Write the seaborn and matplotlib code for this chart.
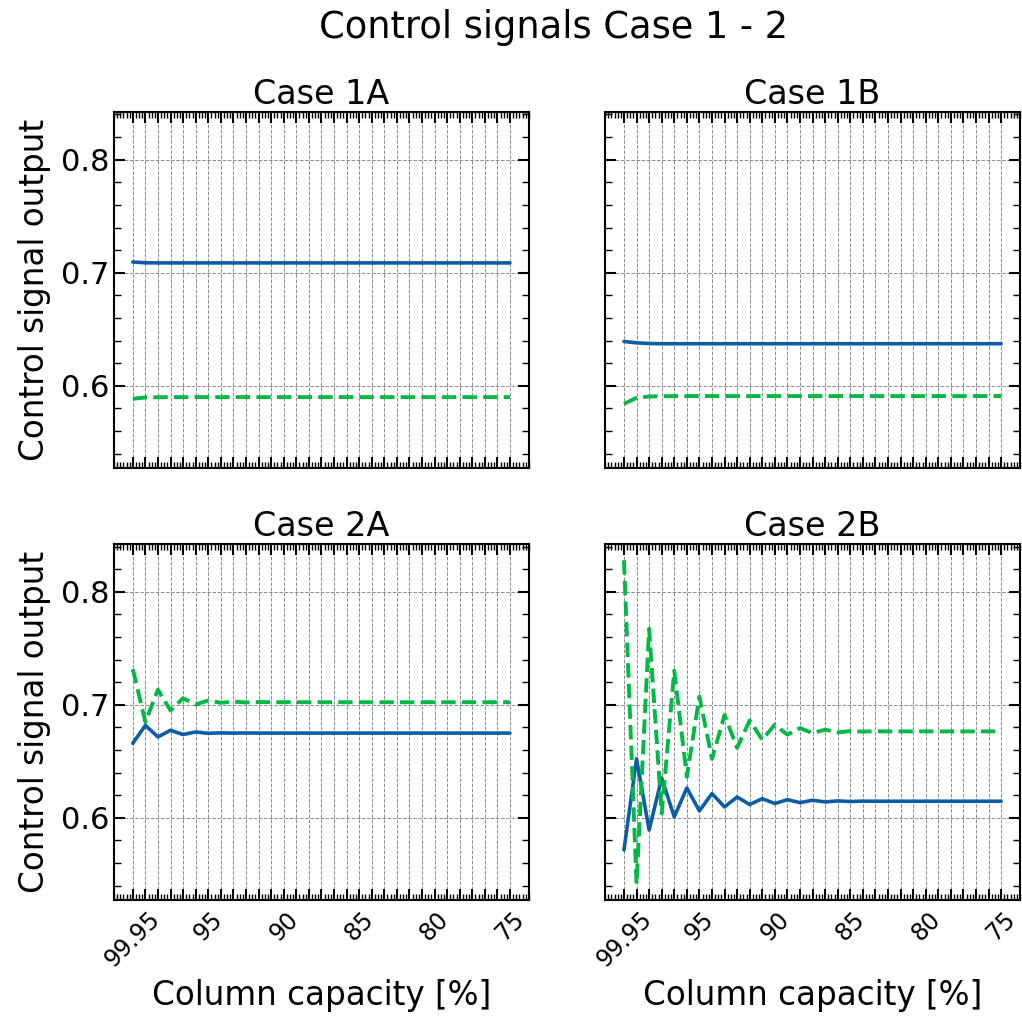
import numpy as np
import pandas as pd
import matplotlib
matplotlib.use('Agg')
import matplotlib.pyplot as plt
import seaborn as sns
from matplotlib.ticker import MultipleLocator, AutoMinorLocator

# x positions (simulation steps) and the capacities written under some of them
step = list(range(31))
label_steps = [0, 6, 12, 18, 24, 30]
label_text = ['99.95', '95', '90', '85', '80', '75']

# Case 1A
case_1a_blue = [0.7095, 0.7088, 0.7087, 0.7087, 0.7087, 0.7087, 0.7087, 0.7087,
                0.7087, 0.7087, 0.7087, 0.7087, 0.7087, 0.7087, 0.7087, 0.7087,
                0.7087, 0.7087, 0.7087, 0.7087, 0.7087, 0.7087, 0.7087, 0.7087,
                0.7087, 0.7087, 0.7087, 0.7087, 0.7087, 0.7087, 0.7087]
case_1a_green = [0.5885, 0.5897, 0.5899, 0.5900, 0.5900, 0.5900, 0.5900, 0.5900,
                 0.5900, 0.5900, 0.5900, 0.5900, 0.5900, 0.5900, 0.5900, 0.5900,
                 0.5900, 0.5900, 0.5900, 0.5900, 0.5900, 0.5900, 0.5900, 0.5900,
                 0.5900, 0.5900, 0.5900, 0.5900, 0.5900, 0.5900, 0.5900]

# Case 1B
case_1b_blue = [0.6392, 0.6380, 0.6374, 0.6372, 0.6372, 0.6372, 0.6372, 0.6372,
                0.6372, 0.6372, 0.6372, 0.6372, 0.6372, 0.6372, 0.6372, 0.6372,
                0.6372, 0.6372, 0.6372, 0.6372, 0.6372, 0.6372, 0.6372, 0.6372,
                0.6372, 0.6372, 0.6372, 0.6372, 0.6372, 0.6372, 0.6372]
case_1b_green = [0.5840, 0.5894, 0.5905, 0.5908, 0.5909, 0.5909, 0.5909, 0.5909,
                 0.5909, 0.5909, 0.5909, 0.5909, 0.5909, 0.5909, 0.5909, 0.5909,
                 0.5909, 0.5909, 0.5909, 0.5909, 0.5909, 0.5909, 0.5909, 0.5909,
                 0.5909, 0.5909, 0.5909, 0.5909, 0.5909, 0.5909, 0.5909]

# Case 2A
case_2a_blue = [0.6660, 0.6818, 0.6716, 0.6775, 0.6737, 0.6760, 0.6748, 0.6752,
                0.6750, 0.6751, 0.6750, 0.6750, 0.6750, 0.6750, 0.6750, 0.6750,
                0.6750, 0.6750, 0.6750, 0.6750, 0.6750, 0.6750, 0.6750, 0.6750,
                0.6750, 0.6750, 0.6750, 0.6750, 0.6750, 0.6750, 0.6750]
case_2a_green = [0.7316, 0.6847, 0.7134, 0.6950, 0.7058, 0.7003, 0.7038, 0.7018,
                 0.7028, 0.7021, 0.7025, 0.7023, 0.7023, 0.7023, 0.7023, 0.7023,
                 0.7023, 0.7023, 0.7023, 0.7023, 0.7023, 0.7023, 0.7023, 0.7023,
                 0.7023, 0.7023, 0.7023, 0.7023, 0.7023, 0.7023, 0.7023]

# Case 2B
case_2b_blue = [0.5716, 0.6522, 0.5892, 0.6352, 0.6009, 0.6264, 0.6062, 0.6215,
                0.6097, 0.6185, 0.6118, 0.6170, 0.6127, 0.6161, 0.6135, 0.6156,
                0.6141, 0.6150, 0.6145, 0.6148, 0.6147, 0.6147, 0.6147, 0.6147,
                0.6147, 0.6147, 0.6147, 0.6147, 0.6147, 0.6147, 0.6147]
case_2b_green = [0.8279, 0.5417, 0.7672, 0.6039, 0.7302, 0.6363, 0.7073, 0.6522,
                 0.6909, 0.6620, 0.6862, 0.6692, 0.6824, 0.6736, 0.6794, 0.6750,
                 0.6780, 0.6756, 0.6768, 0.6763, 0.6766, 0.6765, 0.6765, 0.6765,
                 0.6765, 0.6765, 0.6765, 0.6765, 0.6765, 0.6765, 0.6765]

titles = ['Case 1A', 'Case 1B', 'Case 2A', 'Case 2B']
blue_series = [case_1a_blue, case_1b_blue, case_2a_blue, case_2b_blue]
green_series = [case_1a_green, case_1b_green, case_2a_green, case_2b_green]

sns.set_style('ticks')
plt.rcParams.update({
    'font.family': ['DejaVu Sans'],
    'text.color': 'black',
    'axes.labelcolor': 'black',
    'xtick.color': 'black',
    'ytick.color': 'black',
    'xtick.direction': 'in',
    'ytick.direction': 'in',
    'xtick.top': True,
    'ytick.right': True,
    'xtick.major.size': 8,
    'xtick.minor.size': 4,
    'ytick.major.size': 8,
    'ytick.minor.size': 5,
    'xtick.major.width': 1.5,
    'ytick.major.width': 1.5,
    'xtick.minor.width': 1.0,
    'ytick.minor.width': 1.0,
    'axes.linewidth': 1.5,
    'axes.edgecolor': 'black',
})

blue = '#0C5DA5'
green = '#00B945'

fig, axes = plt.subplots(2, 2, figsize=(10.22, 10.16), dpi=100, sharex=True, sharey=True)
plt.subplots_adjust(left=0.1115, right=0.998, top=0.8898, bottom=0.1142,
                    wspace=0.184, hspace=0.214)

tick_labels = [label_text[label_steps.index(s)] if s in label_steps else '' for s in step]

for ax, title, yb, yg in zip(axes.flat, titles, blue_series, green_series):
    sns.lineplot(x=step, y=yb, ax=ax, color=blue, linewidth=2.6)
    sns.lineplot(x=step, y=yg, ax=ax, color=green, linewidth=2.8, linestyle='--')
    ax.set_title(title, fontsize=24)
    ax.set_xticks(step)
    ax.xaxis.set_minor_locator(AutoMinorLocator(4))
    ax.yaxis.set_major_locator(MultipleLocator(0.1))
    ax.yaxis.set_minor_locator(MultipleLocator(0.02))
    ax.grid(True, which='major', linestyle='--', color='k', alpha=0.45, linewidth=0.7)
    ax.tick_params(axis='both', which='both', top=True, right=True, direction='in')
    ax.tick_params(axis='y', labelsize=22)
    ax.set_xlabel('')
    ax.set_ylabel('')

for ax in axes[1]:
    ax.set_xticklabels(tick_labels)
    ax.tick_params(axis='x', labelsize=17, labelrotation=45, pad=5)
    ax.set_xlabel('Column capacity [%]', fontsize=23.5, labelpad=5)

for ax in axes[:, 0]:
    ax.set_ylabel('Control signal output', fontsize=23.5, labelpad=7)

fig.suptitle('Control signals Case 1 - 2', fontsize=26.5, x=0.542, y=0.973, va='center')

plt.savefig('out.png', dpi=100)
plt.close()
